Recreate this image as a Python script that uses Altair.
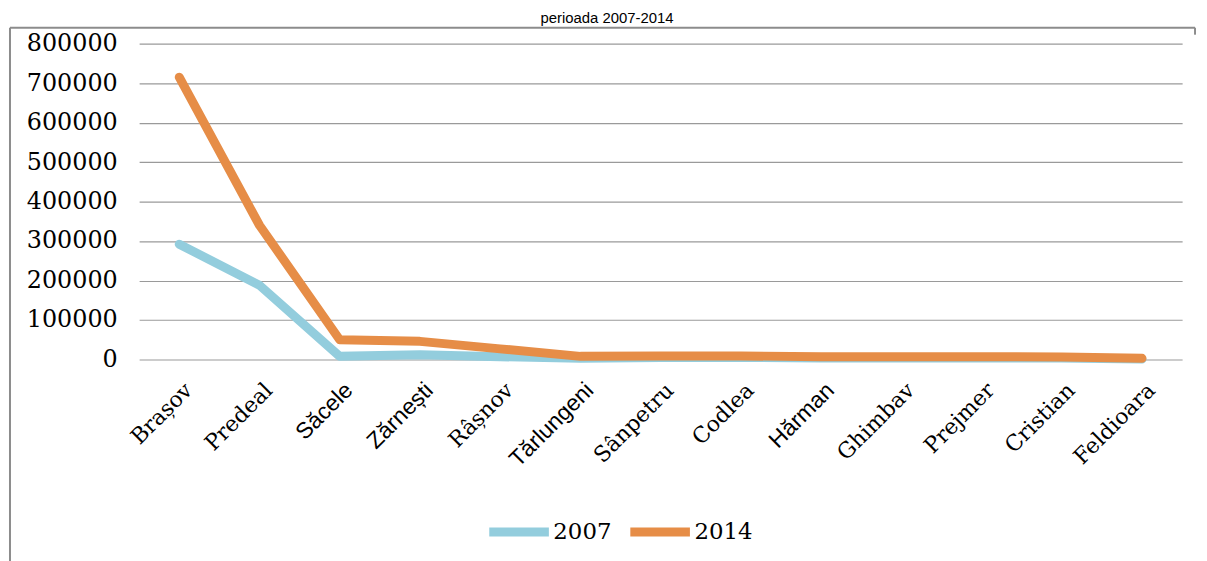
import altair as alt
import pandas as pd

cities = ["Brașov", "Predeal", "Săcele", "Zărnești", "Râșnov", "Tărlungeni",
          "Sânpetru", "Codlea", "Hărman", "Ghimbav", "Prejmer", "Cristian", "Feldioara"]
v2007 = [292000, 188000, 8000, 12000, 7000, 3000, 5000, 5000, 4000, 4000, 4000, 4000, 1000]
v2014 = [715000, 340000, 50000, 46000, 27000, 8000, 9000, 9000, 7000, 7000, 7000, 6500, 3000]
years = ["2007", "2014"]
colors = ["#93CDDD", "#E68D47"]
y_ticks = [0, 100000, 200000, 300000, 400000, 500000, 600000, 700000, 800000]
title_text = "perioada 2007-2014"
sans_labels = ["Săcele", "Zărnești", "Tărlungeni", "Hărman"]

rows = []
for c, v in zip(cities, v2007):
    rows.append({"city": c, "year": "2007", "value": v})
for c, v in zip(cities, v2014):
    rows.append({"city": c, "year": "2014", "value": v})
df = pd.DataFrame(rows)

sans_js = "[" + ",".join("'" + s + "'" for s in sans_labels) + "]"
font_expr = f"indexof({sans_js}, datum.value) >= 0 ? 'Liberation Sans' : 'DejaVu Serif'"
size_expr = f"indexof({sans_js}, datum.value) >= 0 ? 23 : 22"

lines = alt.Chart(df).mark_line(strokeWidth=9, strokeCap="round", strokeJoin="round").encode(
    x=alt.X("city:N", sort=cities, title=None,
            axis=alt.Axis(labelAngle=-45, labelAlign="right", labelBaseline="middle",
                          labelPadding=27, labelOffset=9, ticks=False, domain=False, grid=False,
                          labelFont=alt.ExprRef(font_expr),
                          labelFontSize=alt.ExprRef(size_expr),
                          labelColor="#000000", labelOverlap=False)),
    y=alt.Y("value:Q", title=None,
            scale=alt.Scale(domain=[0, 800000], nice=False),
            axis=alt.Axis(values=y_ticks, format="d", ticks=False, domain=False,
                          labelFont="DejaVu Serif", labelFontSize=24, labelColor="#000000",
                          labelPadding=22, gridColor="#9a9a9a", gridWidth=1.2)),
    color=alt.Color("year:N", scale=alt.Scale(domain=years, range=colors),
                    legend=alt.Legend(title=None, orient="none", direction="horizontal",
                                      legendX=348, legendY=457, symbolType="stroke",
                                      symbolSize=3600, symbolStrokeWidth=9,
                                      labelFont="DejaVu Serif", labelFontSize=23,
                                      labelColor="#000000", labelOffset=0,
                                      columnPadding=0, padding=0)),
    order=alt.Order("year:N"),
)

border_top = alt.Chart().mark_rule(color="#8c8c8c", strokeWidth=2).encode(
    x=alt.value(-130), x2=alt.value(1063), y=alt.value(-16))
border_left = alt.Chart().mark_rule(color="#8c8c8c", strokeWidth=2).encode(
    x=alt.value(-130), y=alt.value(-16), y2=alt.value(700))
border_right = alt.Chart().mark_rule(color="#8c8c8c", strokeWidth=2).encode(
    x=alt.value(1063), y=alt.value(-16), y2=alt.value(-9))
title = alt.Chart().mark_text(font="Liberation Sans", fontSize=15, baseline="alphabetic",
                              align="center", color="#000000").encode(
    x=alt.value(471), y=alt.value(-21), text=alt.value(title_text))

chart = alt.layer(border_top, border_left, border_right, title, lines).properties(
    width=1050, height=318,
    autosize=alt.AutoSizeParams(type="none"),
    padding={"left": 132, "top": 34, "right": 17, "bottom": 201},
).configure_view(stroke=None)

chart.save("out.html", embed_options={"renderer": "svg", "actions": False})
